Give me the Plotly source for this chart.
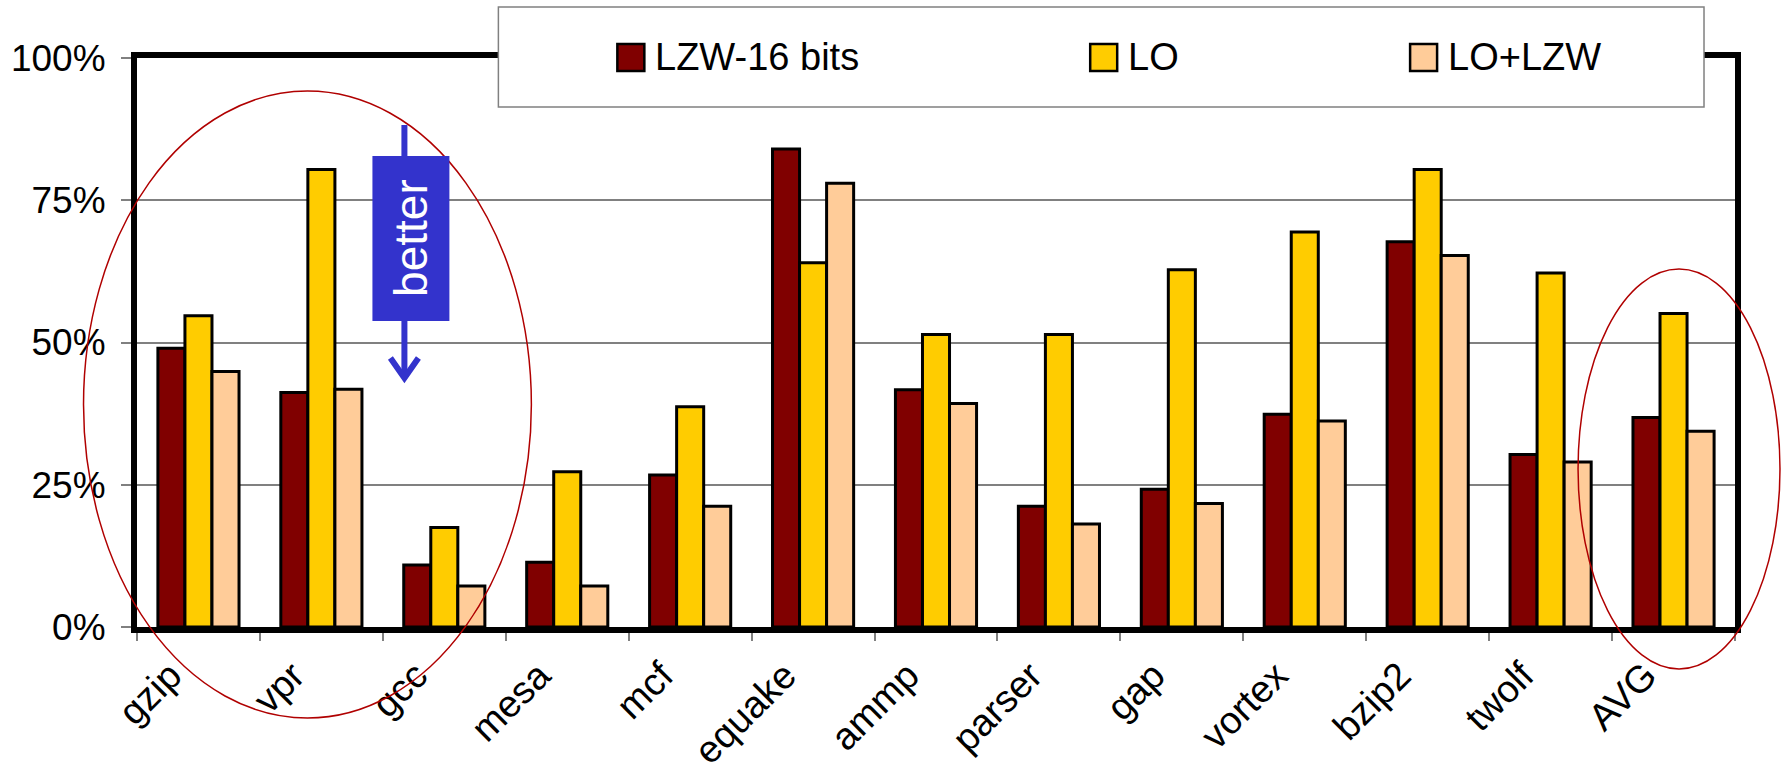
import plotly.graph_objects as go

# Benchmarks and compression results (fraction of original size)
benchmarks = ["gzip", "vpr", "gcc", "mesa", "mcf", "equake", "ammp",
              "parser", "gap", "vortex", "bzip2", "twolf", "AVG"]
lzw16 = [0.490, 0.412, 0.109, 0.114, 0.267, 0.840, 0.417,
         0.212, 0.242, 0.374, 0.677, 0.303, 0.368]
lo = [0.547, 0.804, 0.175, 0.273, 0.387, 0.640, 0.514,
      0.514, 0.628, 0.694, 0.804, 0.622, 0.551]
lo_lzw = [0.449, 0.418, 0.072, 0.072, 0.212, 0.780, 0.393,
          0.181, 0.217, 0.362, 0.653, 0.290, 0.344]

series_names = ["LZW-16 bits", "LO", "LO+LZW"]
series_values = [lzw16, lo, lo_lzw]
series_colors = ["#800000", "#FFCC00", "#FFCC99"]
y_ticks = [0, 0.25, 0.5, 0.75, 1.0]

W, H = 1789, 771
L, R, T, B = 136.5, 54, 58, 144
PW, PH = W - L - R, H - T - B


def px(x):
    return (x - L) / PW


def py(y):
    return (H - B - y) / PH


FONT = "Liberation Sans, Arial, sans-serif"

fig = go.Figure()
for name, vals, col in zip(series_names, series_values, series_colors):
    fig.add_trace(go.Bar(
        x=benchmarks, y=vals, name=name,
        marker=dict(color=col, line=dict(color="black", width=3)),
        showlegend=False,
    ))

shapes = []
annotations = []

# Legend box drawn over the top frame line
shapes.append(dict(type="rect", xref="paper", yref="paper",
                   x0=px(498), x1=px(1704), y0=py(107), y1=py(7),
                   fillcolor="white", line=dict(color="#808080", width=1.5),
                   layer="above"))
legend_x = [617, 1090, 1410]
for name, col, lx in zip(series_names, series_colors, legend_x):
    shapes.append(dict(type="rect", xref="paper", yref="paper",
                       x0=px(lx), x1=px(lx + 27), y0=py(71), y1=py(44),
                       fillcolor=col, line=dict(color="black", width=2.5),
                       layer="above"))
    annotations.append(dict(xref="paper", yref="paper", x=px(lx + 36), y=py(57),
                            text=name, showarrow=False, xanchor="left",
                            yanchor="middle",
                            font=dict(family=FONT, size=38, color="black")))

# Highlight ellipses
shapes.append(dict(type="circle", xref="paper", yref="paper",
                   x0=px(83), x1=px(531), y0=py(718), y1=py(91),
                   line=dict(color="#B00000", width=1.5), layer="above"))
shapes.append(dict(type="circle", xref="paper", yref="paper",
                   x0=px(1578), x1=px(1780), y0=py(669), y1=py(269),
                   line=dict(color="#B00000", width=1.5), layer="above"))

# "better" arrow
BLUE = "#3333CC"
shapes.append(dict(type="line", xref="paper", yref="paper",
                   x0=px(404), x1=px(404), y0=py(125), y1=py(376),
                   line=dict(color=BLUE, width=6), layer="above"))
shapes.append(dict(type="rect", xref="paper", yref="paper",
                   x0=px(372), x1=px(449), y0=py(321), y1=py(156),
                   fillcolor=BLUE, line=dict(width=0), layer="above"))
shapes.append(dict(type="path", xref="paper", yref="paper",
                   path=f"M {px(390)},{py(358)} L {px(404)},{py(378)} L {px(418)},{py(358)}",
                   line=dict(color=BLUE, width=6), layer="above"))
annotations.append(dict(xref="paper", yref="paper", x=px(410.5), y=py(238),
                        text="better", textangle=-90, showarrow=False,
                        xanchor="center", yanchor="middle",
                        font=dict(family=FONT, size=46, color="white")))

fig.update_layout(
    width=W, height=H,
    margin=dict(l=L, r=R, t=T, b=B, pad=0, autoexpand=False),
    paper_bgcolor="white", plot_bgcolor="white",
    barmode="group", bargap=0.34, bargroupgap=0,
    font=dict(family=FONT, size=36, color="black"),
    shapes=shapes, annotations=annotations,
    xaxis=dict(
        type="category", tickangle=-45, tickson="boundaries",
        ticks="outside", ticklen=8, tickcolor="#808080", tickwidth=1.5,
        showline=True, linecolor="black", linewidth=6, mirror=True,
        showgrid=False, tickfont=dict(size=38), automargin=False,
        ticklabelstandoff=5, ticklabelshift=-28,
    ),
    yaxis=dict(
        range=[0, 1], tickvals=y_ticks, tickformat=".0%",
        ticks="outside", ticklen=10, tickcolor="#808080", tickwidth=1.5,
        showline=True, linecolor="black", linewidth=6, mirror=True,
        showgrid=True, gridcolor="#808080", gridwidth=1.5,
        zeroline=False, tickfont=dict(size=37), ticklabelstandoff=8,
        automargin=False,
    ),
)

fig.write_html("out.html")
